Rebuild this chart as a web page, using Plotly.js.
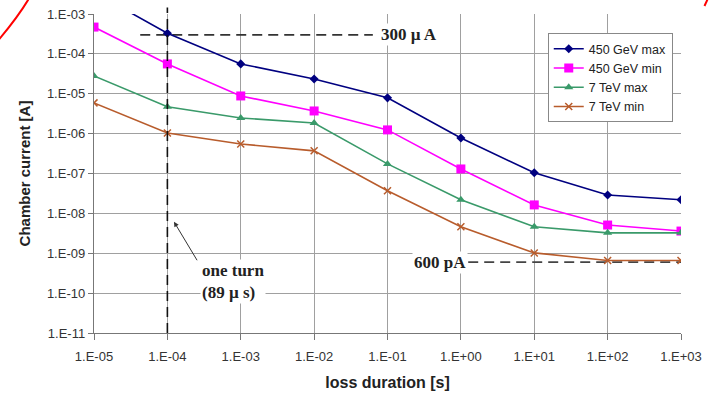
<!DOCTYPE html>
<html>
<head>
<meta charset="utf-8">
<script src="https://cdn.plot.ly/plotly-3.0.1.min.js"></script>
<style>html,body{margin:0;padding:0;background:#fff;}#chart{width:710px;height:401px;}</style>
</head>
<body>
<div id="chart"></div>
<script>
const durations = [1e-5, 1e-4, 1e-3, 1e-2, 1e-1, 1e0, 1e1, 1e2, 1e3];
const gev450Max = [3.5e-3, 3.3e-4, 5.6e-5, 2.35e-5, 7.9e-6, 7.8e-7, 1.04e-7, 2.9e-8, 2.2e-8];
const gev450Min = [4.7e-4, 5.6e-5, 8.8e-6, 3.7e-6, 1.24e-6, 1.3e-7, 1.63e-8, 5.1e-9, 3.6e-9];
const tev7Max = [2.8e-5, 4.7e-6, 2.47e-6, 1.85e-6, 1.74e-7, 2.2e-8, 4.6e-9, 3.25e-9, 3.25e-9];
const tev7Min = [5.9e-6, 1.04e-6, 5.5e-7, 3.7e-7, 3.7e-8, 4.6e-9, 1.02e-9, 6.6e-10, 6.6e-10];
const seriesNames = ['450 GeV max', '450 GeV min', '7 TeV max', '7 TeV min'];
const xTickVals = [1e-5, 1e-4, 1e-3, 1e-2, 1e-1, 1e0, 1e1, 1e2, 1e3];
const xTickText = ['1.E-05','1.E-04','1.E-03','1.E-02','1.E-01','1.E+00','1.E+01','1.E+02','1.E+03'];
const yTickVals = [1e-11, 1e-10, 1e-9, 1e-8, 1e-7, 1e-6, 1e-5, 1e-4, 1e-3];
const yTickText = ['1.E-11','1.E-10','1.E-09','1.E-08','1.E-07','1.E-06','1.E-05','1.E-04','1.E-03'];
const oneTurn = 1e-4;
const limitHigh = 3e-4;
const limitLow = 6e-10;

const colors = ['#000080', '#ff00ff', '#3a9a6a', '#b85c2c'];
const symbols = ['diamond', 'square', 'triangle-up', 'x-thin-open'];
const sizes = [7, 9, 8, 7];
const data = [gev450Max, gev450Min, tev7Max, tev7Min].map((ys, i) => ({
  x: durations, y: ys, name: seriesNames[i], type: 'scatter', mode: 'lines+markers',
  line: {color: colors[i], width: 1.6},
  marker: {symbol: symbols[i], size: sizes[i], color: colors[i], line: {color: colors[i], width: i === 3 ? 1.5 : 0}}
}));

const sans = 'Liberation Sans, Arial, sans-serif';
const serif = {family: 'Liberation Serif, Times New Roman, serif', size: 17, color: '#222'};
const layout = {
  width: 710, height: 401,
  margin: {l: 94, r: 29, t: 14, b: 68},
  paper_bgcolor: '#fff', plot_bgcolor: '#fff',
  showlegend: true,
  legend: {x: 0.773, y: 0.94, xanchor: 'left', yanchor: 'top', bgcolor: '#fff', bordercolor: '#888', borderwidth: 1,
           font: {family: sans, size: 12.5, color: '#222'}, tracegroupgap: 0, itemwidth: 30},
  xaxis: {type: 'log', range: [-5, 3], tickvals: xTickVals, ticktext: xTickText,
          showgrid: true, gridcolor: '#a0a0a0', gridwidth: 1.2, showline: true, linecolor: '#777', linewidth: 1.2,
          ticks: 'outside', ticklen: 6, tickcolor: '#777', zeroline: false, ticklabelstandoff: 5,
          tickfont: {family: sans, size: 13, color: '#333'},
          title: {text: '<b>loss duration [s]</b>', font: {family: sans, size: 16, color: '#222'}, standoff: 14}},
  yaxis: {type: 'log', range: [-11, -3], tickvals: yTickVals, ticktext: yTickText,
          showgrid: true, gridcolor: '#a0a0a0', gridwidth: 1.2, showline: true, linecolor: '#777', linewidth: 1.2,
          ticks: 'outside', ticklen: 5, tickcolor: '#777', zeroline: false,
          tickfont: {family: sans, size: 13, color: '#333'},
          title: {text: '<b>Chamber current [A]</b>', font: {family: sans, size: 15, color: '#222'}, standoff: 12}},
  shapes: [
    {type: 'line', xref: 'x', yref: 'paper', x0: oneTurn, x1: oneTurn, y0: 0, y1: 1.02, layer: 'above',
     line: {color: '#111', width: 1.6, dash: '10px,6px'}},
    {type: 'line', xref: 'x', yref: 'y', x0: Math.pow(10, -4.37), x1: Math.pow(10, -1.2), y0: limitHigh, y1: limitHigh, layer: 'between',
     line: {color: '#333', width: 1.6, dash: '10px,6px'}},
    {type: 'line', xref: 'x', yref: 'y', x0: Math.pow(10, 0.1), x1: 1e3, y0: limitLow, y1: limitLow, layer: 'between',
     line: {color: '#444', width: 1.6, dash: '10px,6px'}},
    {type: 'path', xref: 'paper', yref: 'paper', layer: 'above',
     path: 'M -0.162 0.92 Q -0.13 0.99 -0.112 1.045', line: {color: '#ff0000', width: 2}},
    {type: 'line', xref: 'paper', yref: 'paper', x0: 1.04, y0: 1.025, x1: 1.045, y1: 1.045, layer: 'above',
     line: {color: '#ff0000', width: 2}}
  ],
  annotations: [
    {x: -1.12, y: Math.log10(limitHigh), xref: 'x', yref: 'y', xanchor: 'left', yanchor: 'middle', showarrow: false,
     text: '<b>300 µ A</b>', font: serif, bgcolor: '#fff', borderpad: 1},
    {x: 0.1, y: Math.log10(limitLow), xref: 'x', yref: 'y', xanchor: 'right', yanchor: 'middle', showarrow: false,
     text: '<b>600 pA</b>', font: serif, bgcolor: '#fff', borderpad: 1},
    {x: -3.554, y: -9.717, xref: 'x', yref: 'y', xanchor: 'left', yanchor: 'middle', showarrow: false, align: 'left',
     text: '<b>one turn</b><br><b>(89 µ s)</b>', font: serif, bgcolor: '#fff', borderpad: 1},
    {x: Math.log10(1.23e-4), y: -8.21, xref: 'x', yref: 'y', ax: 24, ay: 40, text: '', showarrow: true,
     arrowhead: 2, arrowsize: 1, arrowwidth: 1, arrowcolor: '#333'}
  ]
};
Plotly.newPlot('chart', data, layout, {displayModeBar: false, staticPlot: true});
</script>
</body>
</html>
